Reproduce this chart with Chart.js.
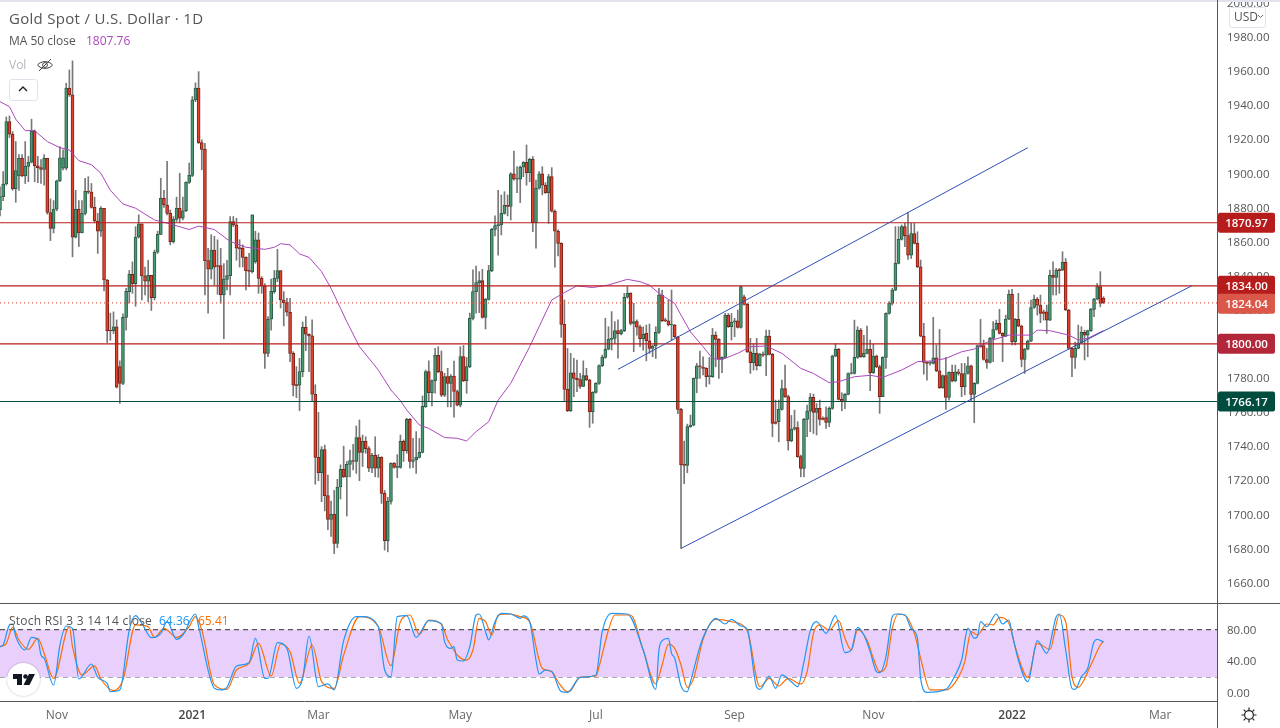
<!DOCTYPE html>
<html>
<head>
<meta charset="utf-8">
<title>Gold Spot / U.S. Dollar</title>
<script src="https://cdn.jsdelivr.net/npm/chart.js@4/dist/chart.umd.min.js"></script>
<style>
  html, body { margin: 0; padding: 0; background: #fff; overflow: hidden; }
  body { width: 1280px; height: 728px; position: relative; font-family: "Open Sans", sans-serif; color: #555; }
  canvas { position: absolute; left: 0; }
  #precio { top: 0; }
  #stoch { top: 603px; }
  .txt { position: absolute; white-space: nowrap; line-height: 16px; font-size: 12px; }
  .raya { position: absolute; background: #555; }
</style>
</head>
<body>
<canvas id="precio" width="1280" height="603"></canvas>
<canvas id="stoch" width="1280" height="125"></canvas>

<div class="raya" style="left:0;top:0;width:1280px;height:2px;background:#e0e3eb"></div>
<div class="raya" style="left:0;top:603px;width:1280px;height:1px"></div>
<div class="raya" style="left:1217px;top:0;width:1px;height:728px"></div>

<div class="txt" style="left:9px;top:10px;font-size:15px;letter-spacing:.3px">Gold Spot / U.S. Dollar · 1D</div>
<div class="txt" style="left:9px;top:33px">MA 50 close</div>
<div class="txt" style="left:86px;top:33px;color:#ab47bc">1807.76</div>
<div class="txt" style="left:9px;top:57px;color:#b2b5be">Vol</div>
<svg style="position:absolute;left:36px;top:57px" width="18" height="16" viewBox="0 0 18 16" fill="none" stroke="#444" stroke-width="1">
  <path d="M1.5 8 C5 3.5 13 3.5 16.5 8 C13 12.5 5 12.5 1.5 8Z"/><circle cx="9" cy="8" r="2.4"/><path d="M3 14 L15 2"/>
</svg>
<div style="position:absolute;left:9px;top:79px;width:27px;height:20px;border:1px solid #e0e3eb;border-radius:3px;background:#fff"></div>
<svg style="position:absolute;left:18px;top:85px" width="10" height="8" viewBox="0 0 10 8" fill="none" stroke="#222" stroke-width="1.4"><path d="M1 6 L5 2 L9 6"/></svg>

<div class="txt" style="left:9px;top:613px;letter-spacing:.25px">Stoch RSI 3 3 14 14 close</div>
<div class="txt" style="left:159px;top:613px;color:#2196f3">64.36</div>
<div class="txt" style="left:198px;top:613px;color:#ff6d00">65.41</div>

<div style="position:absolute;left:7px;top:663px;width:33px;height:33px;border-radius:50%;background:#fff;box-shadow:0 0 2px rgba(0,0,0,.3)"></div>
<svg style="position:absolute;left:12px;top:672px" width="24" height="15" viewBox="0 0 24 15" fill="#131722">
  <path d="M1 2 H10 V13 H5 V7 H1Z"/><circle cx="13.5" cy="4.5" r="2.3"/><path d="M17 2 H23 L17.5 13 H11.5Z"/>
</svg>
<svg style="position:absolute;left:1241px;top:707px" width="16" height="16" viewBox="0 0 16 16" fill="none" stroke="#222" stroke-width="1.2">
  <circle cx="8" cy="8" r="4.4"/><path d="M8 0.5 V3 M8 13 V15.5 M0.5 8 H3 M13 8 H15.5 M2.7 2.7 L4.6 4.6 M11.4 11.4 L13.3 13.3 M2.7 13.3 L4.6 11.4 M11.4 4.6 L13.3 2.7"/>
</svg>

<div id="usd" style="position:absolute;left:1229px;top:7px;width:35px;height:19px;border:1px solid #e0e3eb;border-radius:3px;background:#fff"></div>
<div class="txt" style="left:1234px;top:9px">USD</div>
<svg style="position:absolute;left:1257px;top:14px" width="7" height="5" viewBox="0 0 7 5" fill="none" stroke="#666"><path d="M1 1 L3.5 3.5 L6 1"/></svg>

<script>
// velas
const opens = [
  1878.5,1886.3,1893.7,1930.3,1922.9,1891,1898.4,1908.8,1898.4,1904,
  1906.5,1924.8,1904.3,1903.3,1902.3,1908.8,1877,1867.7,1878.9,1895.5,
  1903,1903,1950,1946,1862.5,1879,1865,1876.5,1889.4,1888.9,
  1880,1872,1866,1879.5,1837.4,1807.9,1807.7,1810,1786.6,1776.8,
  1815.5,1830.6,1840.8,1835.3,1862.5,1870.3,1839.8,1836.7,1840.2,1827,
  1853.7,1864.2,1885.3,1881.4,1876.5,1859.9,1873,1879.5,1873.6,1878,
  1894.7,1898.8,1943,1949.9,1918,1914,1848.8,1843.7,1855,1845.8,
  1845.8,1828.6,1837.8,1840,1871.7,1869.7,1856,1856,1850.7,1842.9,
  1842.3,1848.2,1860.9,1838.4,1833.9,1794.4,1814.4,1830.6,1838.4,1842.9,
  1825.7,1824.1,1818.5,1794.4,1775.7,1775.7,1783.7,1809.7,1805.6,1804.6,
  1770.4,1733.4,
  1724.4,1738,1711,1697,1700,1683,1716,1726.4,1722,1729.3,
  1731.5,1731,1745,1736.3,1742.8,1738.5,1727,1734.6,1727,1733.4,
  1712.3,1684.5,1707.6,1730,1727.5,1727.5,1742.8,1737.3,1755.7,1731,
  1732,1733.4,1736.3,1763.1,1783.7,1771.3,1778.4,1793.2,1783.7,1769.8,
  1780.7,1776.8,1781,1772,1764,1792.5,1778.4,1786.6,1814.9,1830.6,
  1835.9,1837,1815.5,1826,1842.9,1867.1,1869.3,1869.7,1876.5,1881.2,
  1880.6,1899.6,1896.5,1896.5,1903.5,1906.4,1900.4,1908.2,1871,1891.2,
  1899.6,1893,1888.6,1898,1877.7,1866,1858.9,1811.4,1773.3,1760.8,
  1783,1779.7,1779,1775,1781.3,1778.8,1760.2,1771.5,1776.8,1787.2,
  1792,1796.8,1802.6,1803.2,1807.7,1806,1807.7,1827.3,1829.6,1812,
  1813,
  1810,1803,1806.1,1801.8,1797.3,1798.7,1806.7,1828.6,1813.5,1813.5,
  1811,1811,1804,1761.5,1729,1728.7,1751.4,1752.3,1779.7,1787.1,
  1786,1785.6,1780.7,1780.7,1805.1,1802.6,1790.8,1792,1816.7,1810,
  1812.7,1813.5,1809.6,1827.6,1823.1,1795.3,1788.9,1794.4,1787.1,1794,
  1793.4,1804.5,1793.8,1754.3,1754.3,1761.5,1773.8,1769,1743.1,1750,
  1750.8,1733.8,1726.9,1755.7,1760.5,1768.6,1759.8,1762.1,1756.2,1756.8,
  1753.9,1762.1,1792.8,1796.7,1767.4,1766,1770.3,1782.6,1782.6,1792,
  1808,1792.4,1794.4,1796.9,1783,1792.8,1786.5,1769,1792,1817.8,
  1823.7,1831.5,1847.2,1861.2,1868.7,1863.4,1852,1864.7,1858.9,1845.2,
  1804.5,1789.1,1788.7,1788.5,1791.8,1784.2,1774.2,1781.3,1768.6,1783.2,
  1778.3,1783.6,1782.6,1774.8,1782.6,1787.1,1770.3,1776.8,1798.9,1798.9,
  1790.8,1789.1,1803.2,1808.4,1812,1806.1,1804.5,1814.5,1829,1801.2,
  1814.3,1810.4,1790.8,1796.9,1801.6,1821.3,1826.2,1822.7,1818.8,1818.8,
  1813.9,1840.1,1838.9,1843.2,1843.2,1847.7,1819.8,1797.3,1792,1797.3,
  1800.6,1806.7,1805.1,1807.7,1820.2,1826.2,1833.5,1826.8
];
const closes = [
  1886.3,1893.7,1930.3,1922.9,1891,1901.6,1908.8,1898.4,1904,1906.5,
  1924.8,1904.3,1903.3,1902.3,1908.8,1877,1867.7,1878.9,1895.5,1909,
  1909,1950,1946,1862.5,1879,1865,1876.5,1889.4,1888.9,1880,
  1872,1866,1879.5,1837.4,1807.7,1807.5,1810,1774.5,1776.8,1815.5,
  1830.8,1840.8,1835.3,1862.5,1870.3,1839.8,1836.7,1840.2,1827,1853.7,
  1864.2,1885.3,1881.4,1876.5,1859.9,1873,1879.5,1873.6,1878,1894.7,
  1898.8,1943,1949.9,1918,1914,1848.8,1843.7,1855,1845,1845.3,
  1828.6,1837.8,1840,1871.7,1869.7,1856,1855.8,1850.7,1842.9,1842.5,
  1875.6,1860.9,1838.4,1833.9,1794.4,1814.4,1830.8,1838.4,1842.9,1825.7,
  1824.1,1818.5,1794.4,1775.7,1775.5,1783.7,1809.7,1805.6,1804.6,1770.4,
  1733.4,1724.4,
  1738,1711,1697,1700,1683,1716,1726.4,1722,1729.3,1731.5,
  1731,1745,1736.3,1742.8,1738.5,1727,1734.6,1727,1733.4,1712.3,
  1684.5,1707.6,1729.9,1727.5,1727.6,1742.8,1737.3,1755.7,1731,1732,
  1733.4,1736.3,1763.3,1783.7,1771.3,1778.4,1793.2,1783.7,1769.8,1780.7,
  1776.8,1781,1772,1764,1792.5,1778.4,1786.6,1814.9,1830.6,1835.9,
  1837,1815.5,1826,1842.9,1867.1,1869.3,1869.7,1876.5,1881.2,1880.6,
  1899.6,1896.5,1896.6,1903.5,1906.4,1900.4,1908.2,1871,1891.2,1899.6,
  1893,1888.6,1898,1877.7,1866,1858.9,1811.4,1773.3,1760.8,1783,
  1779.7,1779,1775,1781.3,1778.8,1760.2,1771.5,1776.8,1787.2,1792,
  1796.8,1802.6,1803.2,1807.7,1806,1807.7,1827.3,1829.6,1812,1813,
  1809.7,
  1803,1805.5,1801.8,1797.3,1798.7,1806.7,1828.6,1813.5,1813.4,1811,
  1811.1,1804,1761.5,1729,1728.7,1751.4,1752.3,1779.7,1787.1,1786.5,
  1785.6,1780.7,1780.9,1805.1,1802.6,1790.8,1792,1816.7,1810,1812.7,
  1813.5,1809.6,1833.5,1823.1,1795.3,1788.9,1794.4,1787.1,1794,1793.4,
  1804.5,1793.8,1753.3,1753.3,1761.5,1773.8,1769,1743.1,1750,1750.8,
  1733.8,1726.9,1755.7,1760.5,1768.6,1759.8,1762.1,1755.7,1755.7,1753.9,
  1762.1,1792.8,1796.7,1767.4,1766,1770.3,1782.6,1782.7,1792,1808,
  1792.4,1794.4,1796.9,1783,1792.8,1786.5,1769,1792,1817.8,1823.7,
  1831.5,1847.2,1861.2,1868.7,1863.4,1852,1864.7,1858.9,1845.2,1804.5,
  1789.1,1788.5,1788.9,1791.8,1784.2,1774.2,1781.3,1768.6,1783.2,1778.3,
  1783.6,1782.6,1774.8,1782.6,1787.1,1770.3,1776.8,1798.9,1798.3,1790.8,
  1789.1,1803.2,1808.4,1812,1806.1,1804.5,1814.5,1829,1801.2,1814.3,
  1810.4,1790.8,1796.9,1801.6,1821.3,1826.2,1822.7,1817.8,1817.8,1813.9,
  1840.1,1838.9,1843.2,1842.9,1847.7,1819.8,1797.3,1792,1797.3,1800.6,
  1806.7,1805.1,1807.7,1820.2,1826.2,1833.5,1823.7,1824
];
const highs = [
  1892,1901,1933,1933.6,1924.4,1918.6,1911,1911,1918.6,1910,
  1931.7,1925.4,1910,1908,1911,1908.8,1885,1884,1896,1915.6,
  1913.7,1952.8,1960.6,1965.9,1890,1884,1884,1897,1898,1894,
  1886,1876.5,1880.5,1879.5,1837.8,1818,1818.7,1814,1790,1817.5,
  1832.5,1843,1848,1868.7,1875.6,1870.3,1845,1849,1840.2,1855,
  1866,1897,1890,1907,1878.5,1874.6,1886,1900,1886,1895,
  1906,1945,1953,1959.6,1919.6,1917.6,1856,1864,1863,1861,
  1856,1847,1849,1874.6,1874.6,1873.6,1861,1858,1851,1853,
  1875.6,1866,1865,1839.4,1835.3,1816,1838,1843,1855.4,1842.9,
  1830.6,1826.7,1826.7,1795.4,1786.6,1791.5,1812.8,1816,1805.8,1814,
  1776,1759.8,
  1739.7,1740.6,1723,1707.8,1714,1720.5,1729,1740,1731,1737.7,
  1741,1751.8,1755.3,1746.5,1745.5,1739.7,1735.7,1745.5,1735,1733.8,
  1714,1710,1730.2,1730.3,1735,1746.5,1743.6,1756.3,1756.3,1744.5,
  1748.5,1744.5,1769.4,1784.6,1790,1778.8,1797.3,1798.3,1795.8,1782.7,
  1785.6,1782,1789.9,1772.9,1798.3,1799,1792,1818,1843.3,1845.6,
  1842.3,1843.7,1826.6,1846,1867.7,1875,1890,1887.3,1889.2,1887.3,
  1900.4,1913,1903.9,1904.3,1906.8,1916.6,1908.8,1909.8,1896,1901,
  1903.9,1894.5,1899.4,1903.3,1878.5,1866.8,1859.3,1825.7,1797.3,1794.4,
  1791.5,1790.5,1782.7,1790,1785.6,1779.2,1771.9,1777.2,1787.6,1793.4,
  1815,1810,1818.9,1813,1814,1808.5,1829.6,1833.5,1830,1823.7,
  1814,
  1811,1810,1811,1811.6,1799.3,1810,1832.5,1831.5,1815,1825.6,
  1831.5,1811.4,1804.4,1762.1,1743,1752.9,1758.2,1780,1788.5,1795.7,
  1792.4,1786,1792,1809,1807,1803,1792.4,1817.8,1817.8,1817.8,
  1814.9,1819.8,1833.9,1828.6,1823.7,1803.2,1800,1803.2,1794.4,1795.3,
  1808,1808,1794.4,1767,1767,1778.7,1787.5,1769.9,1758,1761.1,
  1754.3,1734.8,1756.3,1764,1770.9,1770.5,1765,1767,1757.2,1763,
  1763,1793.4,1800.2,1797.3,1771.3,1770.9,1783,1788.5,1813.9,1810,
  1809,1805,1810.4,1802.2,1799.8,1793.4,1787.5,1792.4,1818.2,1824.7,
  1832.5,1868.7,1868.7,1869.7,1870.6,1876.9,1870.6,1870.6,1865.7,1849.1,
  1812,1789.5,1789.5,1815.5,1799.3,1808.4,1781.7,1792,1783.6,1787.5,
  1787.5,1785,1788.5,1788.5,1792.4,1787.5,1777.2,1799.3,1814.3,1802.2,
  1797.3,1803.8,1813,1813.9,1820.2,1806.5,1816.8,1831.5,1831.9,1814.9,
  1829.6,1811,1797.3,1802.2,1825.6,1828.6,1827.2,1828.6,1819.8,1822.7,
  1843.2,1848.1,1844.2,1844.2,1854,1850,1820.2,1797.7,1801,1811,
  1810,1808,1808,1820.8,1826.6,1835.4,1842.3,1827.6
];
const lows = [
  1875,1884,1893,1921,1890,1883,1890,1898,1894,1895,
  1906,1895,1894.5,1894,1893,1876,1860.5,1865,1878,1895,
  1902,1902,1945,1851,1862,1857,1865,1875.6,1888,1879.5,
  1871,1853,1863,1831,1800.7,1802,1806,1774,1765,1776,
  1808,1824,1829.6,1822,1862,1825.7,1828.6,1824.7,1819.5,1825.7,
  1853,1864,1880,1875.6,1858,1859,1871.7,1871,1872.6,1877.5,
  1894,1898,1942,1917.5,1902,1828.6,1818,1838,1834.5,1829,
  1823.8,1803,1831.6,1828.6,1868.7,1849,1845,1845,1831.6,1833.5,
  1841.5,1847.2,1829.6,1829.6,1785.6,1792.5,1808,1829.6,1836.4,1821,
  1810.5,1816.3,1789.5,1769.4,1768.4,1760.8,1780.7,1796,1783.7,1766,
  1717.6,1719.7,
  1707.4,1702,1691,1687,1677,1680.4,1709,1721.5,1699,1722,
  1726,1724,1719.7,1728,1735.8,1725,1724.4,1722,1721.7,1706.4,
  1679,1678,1706,1727,1721.5,1727,1731,1735.8,1727,1727.3,
  1724,1733,1736,1762.7,1766,1763.5,1771,1783,1769,1769,
  1763,1763,1756.9,1763.5,1763,1777.8,1771,1786,1814,1817.9,
  1818.3,1815,1808.7,1825.6,1842.3,1863.2,1852,1863.8,1876,1875,
  1872.6,1896,1888.6,1882.8,1898,1893,1895,1865.8,1856,1890.6,
  1887.3,1888.2,1870.6,1877.2,1845,1851.5,1803.8,1766.6,1760.2,1760.2,
  1769,1771.9,1773.9,1774.9,1778.4,1751,1753.4,1771,1776.2,1786.6,
  1791.5,1796.4,1796.4,1800.2,1791.5,1805.2,1807.1,1826.7,1811,1795.4,
  1805,
  1798.3,1796.3,1790,1794.4,1792.4,1791.4,1806,1813,1812.9,1810.4,
  1802.2,1803.6,1759,1680,1718,1724.4,1751,1751.9,1771.3,1779.7,
  1781.7,1774.8,1776.4,1780.3,1786.5,1779.7,1783,1791.6,1809.6,1802.2,
  1804.1,1809.2,1809.2,1822.7,1794.9,1782.6,1784.6,1784.6,1786.9,1792.4,
  1781.3,1793.4,1745.5,1752.9,1742.5,1761.1,1768.6,1737.7,1742.5,1749.4,
  1733.4,1722,1722,1745.5,1748.4,1747.4,1746.5,1752.3,1755.3,1750.4,
  1751.4,1761.5,1792.4,1767,1760.7,1762,1770,1782.2,1782.2,1791.4,
  1792,1792,1794,1772.5,1782.6,1786,1759.2,1769,1785.6,1817.4,
  1822.7,1831.1,1846.8,1860.8,1857,1849.5,1850,1858.5,1844.6,1804.1,
  1782.2,1778.7,1787.5,1788.1,1783.6,1773.8,1773.8,1761.5,1767,1777.7,
  1777.7,1781.6,1769,1770,1782.2,1766,1753.7,1776.4,1797.9,1790.4,
  1785.6,1788.7,1789.5,1808,1805.7,1789.5,1804.1,1814.1,1799.3,1799.3,
  1810,1786.5,1782.6,1796.4,1801.2,1820.7,1816.8,1812.4,1813.9,1806.1,
  1813.5,1828.6,1828.6,1829.6,1842.9,1819.4,1796.9,1780.7,1785.6,1797,
  1800.2,1790.5,1792.4,1807.2,1815.9,1825.8,1821.7,1823.6
];

// media movil 50
const maIdx = [0,3,5,8,11,15,19,22,25,29,32,35,39,43,49,54,60,63,68,73,78,84,87,89,92,95,98,102,105,108,110,114,120,124,127,129,133,136,141,145,148,151,155,158,162,168,172,175,179,183,188,193,199,203,206,209,214,216,219,223,226,229,234,238,243,248,254,258,263,266,271,276,280,286,291,296,300,305,309,314,320,327,329,333,339,342,345,350];
const maVal = [1942,1939,1931.7,1925,1925,1918.6,1915,1913.7,1907.4,1905,1900,1890,1882,1879.5,1872.6,1870.3,1867,1869,1867,1860,1856.6,1855.4,1856.6,1858.7,1858,1852.7,1850.7,1842.3,1832.5,1820.8,1813,1798.3,1784.6,1772.9,1766.6,1761.2,1752.4,1750.4,1745,1744.6,1743,1748.5,1754.3,1767,1776.8,1798.3,1814,1825.7,1830,1834,1833,1834.5,1837.8,1836.4,1834.4,1829.6,1823.7,1816.8,1807,1798.3,1791.4,1790.8,1794.4,1798.3,1798.7,1794.4,1785.6,1782.6,1777.2,1777.8,1780.7,1781.5,1780.3,1784.6,1789.5,1790,1791.4,1795.3,1796.9,1801.8,1805.1,1805.1,1808,1807.7,1805.1,1802.2,1803.2,1807.76];

// niveles horizontales
const levelVal = [1870.97, 1834, 1824.04, 1800, 1766.17];
const levelTxt = ['1870.97', '1834.00', '1824.04', '1800.00', '1766.17'];
const levelCol = ['#b71c1c', '#b71c1c', '#d9584a', '#b2283a', '#004d40'];

// canal
const lowerIdx = [216, 378];
const lowerVal = [1680, 1834];
const upperIdx = [196, 326];
const upperVal = [1785, 1915];

// stoch rsi
const kIdx = [0,1,3,4,5,8,10,12,13,14,17,19,21,23,25,29,31,34,35,38,41,43,45,48,51,53,56,58,62,63,68,70,72,75,79,81,84,85,88,91,94,96,98,101,104,106,109,113,115,120,122,124,126,129,132,136,140,141,143,144,145,147,149,151,152,154,155,157,159,162,165,166,168,170,171,173,175,178,180,184,189,191,194,199,204,208,209,210,212,213,214,216,218,219,222,224,227,230,232,235,237,240,241,244,246,248,251,253,255,257,259,262,265,268,270,272,274,276,278,279,281,283,284,287,289,291,292,294,300,303,305,307,309,310,311,313,316,318,320,321,323,326,329,332,335,336,338,340,341,343,345,347,348,350];
const kVal = [58.4,60.5,85.9,87.1,71.1,54.2,70.2,67.7,47.9,43.7,9.9,60.5,84.6,81.6,17.5,36.5,19.6,12,1.5,3.6,79.5,97.7,88,69.8,75.3,90,67.7,73.2,99.8,83.7,5.7,3.6,7,34,38.2,69,18.3,18.3,63.5,56.3,5.7,18.3,71.9,7.8,11.2,3.6,66,96.4,96.4,83.7,28.9,20.5,96.4,97.7,70.2,91.3,87.1,64.8,56.3,58.4,41.5,40.3,58.4,98.5,99.8,77.4,66.9,90,100.6,99.8,94.3,97.3,90,41.5,23.8,28.9,26.8,1.5,0.6,19.6,22.6,77.4,100.6,99.8,54.2,4.4,54.2,66,69,50,43.7,8.6,1.5,14,58.4,78.7,94.3,87.1,93,84.6,80.4,7,4.4,21.3,5.7,22.6,14,7.8,39.4,78.7,90,75.3,97.7,50.8,54.2,82.9,73.2,52.1,26.8,25.5,45.8,96.4,99.8,98.5,81.6,69,18.3,0.6,4.4,22.6,41.5,81.6,69,71.1,90,83.7,99.8,87.1,92.2,75.3,41.5,14.1,66,50,96.4,99.8,54.2,5.7,4.4,20.5,31,64.8,67.7,64.36];
const dIdx = [0,2,4,6,9,12,14,17,22,23,26,30,32,36,39,43,47,49,52,56,60,62,64,68,72,75,79,82,86,89,92,95,99,102,106,109,114,120,124,127,130,133,136,140,142,143,145,148,150,152,154,156,158,162,165,168,171,172,175,177,180,181,184,189,190,193,195,200,204,208,210,212,214,216,218,220,223,227,232,237,241,244,247,250,254,256,258,260,263,266,268,270,272,275,277,279,281,283,285,287,290,292,295,300,304,306,308,310,313,315,317,320,322,326,329,333,336,338,340,342,346,349,350];
const dVal = [58.4,62.6,82.9,66.9,55,69,50,18.3,83.7,58.4,22.6,34,17.5,2.7,16.2,85.9,83.7,70,81.6,70.2,83.7,96.4,79.5,10,4.4,28.9,37.3,62.6,21.3,61.8,52.1,12,60.5,14.1,5.7,47.9,96.4,83.7,34.4,90,98.5,74,92.2,87.1,66.9,60.5,47.9,41.5,54.2,94.3,90,73.2,98.5,99.8,96.4,90,41.5,31,26.8,14,1.5,2.7,19.6,21.3,33.1,79.5,98.5,98.5,54.2,11.2,35.2,61.4,56.3,35.2,7,18.3,67.7,93,90,78.7,7.8,18.3,8.6,18.3,11.2,26.8,75.3,85.9,79.5,91.3,69,54.2,79.5,66.9,43.7,26.8,33.1,81.6,99.8,98.5,75.3,43.7,3.6,3.6,19.6,39.4,77.4,73.2,87.1,85.9,95.6,88,58.4,19.6,62.6,55,98.5,90,20.5,7,35.2,60.5,65.41];

// eje x
const categories = Array.from({ length: 387 }, (_, i) => i);
const monthIdx = [18, 61, 101, 146, 189, 233, 277, 321, 368];
const monthTxt = ['Nov', '2021', 'Mar', 'May', 'Jul', 'Sep', 'Nov', '2022', 'Mar'];
const priceTicks = [1660,1680,1700,1720,1740,1760,1780,1800,1820,1840,1860,1880,1900,1920,1940,1960,1980,2000];
const stochTicks = [0, 40, 80];
const bandTop = 80;
const bandBottom = 20;

const fuente = '"Open Sans", sans-serif';

function pares(xs, ys) {
  return xs.map((x, i) => ({ x: x, y: ys[i] }));
}

function linea(label, data, color, order, extra) {
  return Object.assign({
    type: 'line',
    label: label,
    data: data,
    borderColor: color,
    borderWidth: 1.2,
    pointRadius: 0,
    tension: 0,
    fill: false,
    order: order
  }, extra || {});
}

// quita el margen que chart.js reserva para las etiquetas del eje
function ajustarEje(axis) {
  axis.width = 63;
  axis.paddingTop = 0;
  axis.paddingBottom = 0;
}

// textos del eje y, un poco mas abajo que los de chart.js
const textosEje = {
  id: 'textosEje',
  afterDraw(chart) {
    const ctx = chart.ctx;
    const y = chart.scales.y;
    ctx.save();
    ctx.font = '11.5px ' + fuente;
    ctx.fillStyle = '#555';
    ctx.textAlign = 'left';
    ctx.textBaseline = 'middle';
    y.ticks.forEach(t => {
      ctx.fillText(t.value.toFixed(2), 1227, y.getPixelForValue(t.value) + 1);
    });
    ctx.restore();
  }
};

const etiquetas = {
  id: 'etiquetas',
  afterDraw(chart) {
    const ctx = chart.ctx;
    const y = chart.scales.y;
    ctx.save();
    ctx.font = '600 11.5px ' + fuente;
    ctx.textAlign = 'center';
    ctx.textBaseline = 'middle';
    levelVal.forEach((v, i) => {
      let py = y.getPixelForValue(v);
      if (i == 2) py += 1; // la etiqueta del precio queda justo bajo la de 1834
      ctx.fillStyle = levelCol[i];
      ctx.beginPath();
      ctx.roundRect(1218, py - 10, 57, 20, 2);
      ctx.fill();
      ctx.fillStyle = '#fff';
      ctx.fillText(levelTxt[i], 1246.5, py + 1);
    });
    ctx.restore();
  }
};

const datosPrecio = [
  linea('canal bajo', pares(lowerIdx, lowerVal), '#2f4fb5', 0, { borderWidth: 1 }),
  linea('canal alto', pares(upperIdx, upperVal), '#2f4fb5', 0, { borderWidth: 1 })
];
levelVal.forEach((v, i) => {
  datosPrecio.push(linea('nivel ' + levelTxt[i], pares([0, 386], [v, v]), levelCol[i == 3 ? 0 : i], 1, i == 2 ? { borderDash: [1, 3] } : {}));
});
datosPrecio.push(linea('MA 50', pares(maIdx, maVal), '#ab47bc', 2, { borderWidth: 1 }));
datosPrecio.push({
  type: 'bar',
  label: 'cuerpos',
  data: opens.map((o, i) => [o, closes[i]]),
  backgroundColor: opens.map((o, i) => closes[i] >= o ? '#4a9a73' : '#e0432f'),
  borderColor: opens.map((o, i) => closes[i] >= o ? '#2a5c47' : '#7e2116'),
  borderWidth: 1,
  borderSkipped: false,
  barThickness: 3,
  minBarLength: 1,
  grouped: false,
  order: 3
});
datosPrecio.push({
  type: 'bar',
  label: 'mechas',
  data: lows.map((l, i) => [l, highs[i]]),
  backgroundColor: '#787878',
  barThickness: 1,
  grouped: false,
  order: 4
});

window.onload = function () {
  new Chart(document.getElementById('precio'), {
    type: 'bar',
    data: { labels: categories, datasets: datosPrecio },
    plugins: [textosEje, etiquetas],
    options: {
      responsive: false,
      animation: false,
      devicePixelRatio: 1,
      layout: { padding: 0 },
      plugins: { legend: { display: false }, tooltip: { enabled: false } },
      scales: {
        x: { type: 'category', display: false, offset: false },
        y: {
          position: 'right',
          min: 1648,
          max: 2001.6,
          grid: { display: false, drawTicks: false },
          border: { color: '#555' },
          afterFit: ajustarEje,
          afterBuildTicks(axis) { axis.ticks = priceTicks.map(v => ({ value: v })); },
          ticks: { display: false }
        }
      }
    }
  });

  new Chart(document.getElementById('stoch'), {
    type: 'line',
    data: {
      labels: categories,
      datasets: [
        linea('K', pares(kIdx, kVal), '#2196f3', 0, { cubicInterpolationMode: 'monotone' }),
        linea('D', pares(dIdx, dVal), '#ff6d00', 1, { cubicInterpolationMode: 'monotone' }),
        linea('banda alta', pares([0, 386], [bandTop, bandTop]), '#555', 2, {
          borderDash: [5, 4],
          fill: '+1',
          backgroundColor: '#e9cffc'
        }),
        linea('banda baja', pares([0, 386], [bandBottom, bandBottom]), '#555', 2, { borderDash: [5, 4] })
      ]
    },
    plugins: [textosEje],
    options: {
      responsive: false,
      animation: false,
      devicePixelRatio: 1,
      layout: { padding: 0 },
      plugins: { legend: { display: false }, tooltip: { enabled: false } },
      scales: {
        x: {
          type: 'category',
          offset: false,
          grid: { display: false, drawTicks: false },
          border: { color: '#555' },
          afterFit(axis) {
            axis.height = 26.5;
            axis.paddingLeft = 0;
            axis.paddingRight = 0;
          },
          ticks: {
            autoSkip: false,
            maxRotation: 0,
            minRotation: 0,
            padding: 7,
            color: ctx => (monthTxt[monthIdx.indexOf(ctx.index)] || '').startsWith('20') ? '#444' : '#666',
            font: ctx => ({
              family: fuente,
              size: 12,
              weight: (monthTxt[monthIdx.indexOf(ctx.index)] || '').startsWith('20') ? '600' : '400'
            }),
            callback: v => {
              const k = monthIdx.indexOf(v);
              return k < 0 ? '' : monthTxt[k];
            }
          }
        },
        y: {
          position: 'right',
          min: -11,
          max: 113.7,
          grid: { display: false, drawTicks: false },
          border: { color: '#555' },
          afterFit: ajustarEje,
          afterBuildTicks(axis) { axis.ticks = stochTicks.map(v => ({ value: v })); },
          ticks: { display: false }
        }
      }
    }
  });
};
</script>
</body>
</html>
